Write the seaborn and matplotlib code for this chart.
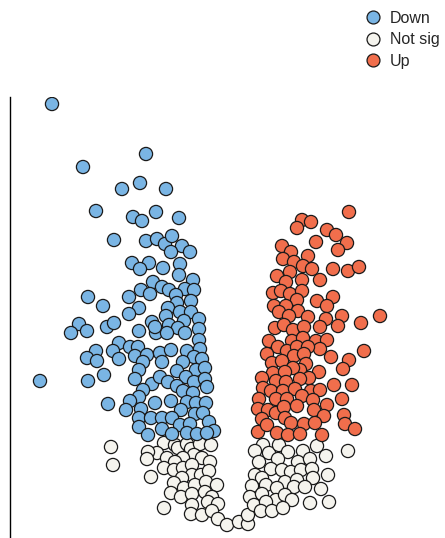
import numpy as np
import pandas as pd
import matplotlib
matplotlib.use("Agg")
import matplotlib.pyplot as plt
from matplotlib.lines import Line2D
import seaborn as sns

# ---------------- data (log2 fold change, -log10 p) ----------------
down_fc = [-3.56,-1.68,-2.94,-2.16,-1.80,-1.28,-2.68,-1.94,-1.76,-1.48,-1.02,
           -2.32,-1.68,-1.46,-1.30,-1.16,-0.96,-0.80,-1.18,-1.96,-1.62,-1.80,-1.34,-1.00,-1.02,-0.74,
           -1.54,-1.36,-1.22,-0.90,-0.72,-1.08,-1.78,-1.60,-2.02,-2.84,-2.54,-0.78,-1.06,-1.24,-1.82,
           -2.02,-1.00,-0.78,-1.28,-0.62,-0.92,-1.56,-1.22,-0.62,-1.04,-1.48,-1.26,-0.90,
           -3.02,-3.18,-2.86,-2.46,-2.32,-1.82,-1.50,-0.62,
           -2.22,-2.68,-2.86,-2.66,-2.34,-2.22,-2.00,-1.84,-1.90,-1.66,-1.40,-1.18,-0.86,-0.60,-0.72,-0.56,
           -1.74,-1.36,-0.94,-1.82,-1.06,-0.68,-0.50,-0.88,
           -3.80,-2.84,-2.52,-1.90,-1.56,-1.40,-1.24,-1.06,-0.72,-0.50,-0.46,-0.94,-0.74,-1.74,-1.82,
           -2.00,-2.44,-2.08,-1.78,-1.50,-1.18,-0.86,-0.68,-0.48,-0.98,-0.70,-0.54,
           -1.82,-1.58,-1.36,-1.16,-0.42,-1.82,-1.36,-1.00,-0.80,-1.64,-1.16,-0.86,-0.66,-0.32,-0.46]
down_p = [8.68,7.68,7.42,6.98,7.10,6.98,6.54,6.42,6.34,6.52,6.40,
          5.96,5.94,5.98,5.88,6.04,5.84,5.72,5.72,5.50,5.50,5.38,5.40,5.48,5.26,5.16,
          5.12,5.02,4.96,4.98,4.96,4.86,4.96,4.88,4.82,4.82,4.64,4.74,4.70,4.60,4.60,
          4.48,4.52,4.52,4.44,4.38,4.34,4.32,4.26,4.18,4.20,4.10,4.10,4.10,
          4.28,4.10,4.14,4.22,4.30,4.14,4.22,3.96,
          3.90,3.74,3.60,3.54,3.74,3.58,3.82,3.82,3.64,3.66,3.70,3.76,3.74,3.78,3.62,3.58,
          3.52,3.52,3.52,3.36,3.34,3.36,3.40,3.22,
          3.14,3.14,3.26,3.18,3.08,3.22,3.12,3.04,3.12,3.18,3.02,2.94,2.90,2.96,2.82,
          2.74,2.68,2.56,2.58,2.70,2.74,2.72,2.70,2.70,2.56,2.48,2.50,
          2.40,2.40,2.40,2.40,2.32,2.22,2.18,2.26,2.28,2.06,2.08,2.10,2.08,2.14,2.10]

up_fc = [2.38,1.44,1.62,1.34,1.94,2.12,2.34,2.16,1.72,
         1.04,1.22,1.06,1.28,1.56,1.46,1.64,2.06,2.36,2.58,
         0.94,1.20,1.12,1.44,1.80,
         0.86,1.02,1.20,1.44,1.34,1.74,2.06,1.94,
         0.88,1.12,0.98,1.36,1.18,1.56,2.24,2.16,1.92,1.80,2.62,3.00,
         0.90,1.08,1.26,1.48,
         0.78,1.24,1.46,1.72,1.94,1.80,0.96,1.14,1.34,1.56,
         0.74,1.28,1.48,2.02,2.68,
         0.84,1.04,1.52,1.40,1.78,1.26,0.86,1.10,1.58,2.38,2.26,
         0.64,0.92,1.12,1.40,2.08,2.44,
         0.66,0.82,1.06,1.30,1.62,1.80,
         0.58,0.92,1.14,1.44,1.66,2.24,1.94,
         0.56,0.76,0.92,1.08,1.34,1.68,1.88,2.28,2.30,2.50,
         0.64,1.10,1.22,1.48,1.70,
         0.56,0.74,0.94,1.16,1.40,1.84]
up_p = [6.52,6.36,6.32,6.20,6.16,6.06,5.90,5.76,5.92,
        5.84,5.72,5.58,5.52,5.64,5.44,5.38,5.38,5.34,5.42,
        5.24,5.32,5.12,5.16,5.16,
        4.90,4.94,4.88,4.94,4.76,4.74,4.82,4.64,
        4.64,4.64,4.52,4.54,4.44,4.42,4.44,4.24,4.38,4.22,4.30,4.44,
        4.20,4.26,4.16,4.22,
        3.94,3.94,4.00,3.94,3.96,3.78,3.82,3.74,3.82,3.82,
        3.68,3.64,3.68,3.62,3.74,
        3.50,3.54,3.48,3.36,3.32,3.40,3.30,3.32,3.20,3.56,3.38,
        3.20,3.14,3.12,3.18,3.06,3.06,
        3.00,2.94,2.94,2.98,2.94,2.96,
        2.78,2.78,2.78,2.84,2.76,2.78,2.66,
        2.58,2.56,2.50,2.62,2.64,2.56,2.44,2.46,2.28,2.18,
        2.38,2.40,2.30,2.28,2.30,
        2.12,2.26,2.10,2.06,2.08,2.06]

ns_fc = [-2.38,-2.34,-1.58,-1.32,-1.32,-1.10,-1.46,-1.64,-1.66,-1.26,-1.04,-0.86,-0.78,-0.60,-0.38,
         -0.72,-0.56,-0.40,-0.94,-1.10,-1.32,-1.12,-0.94,-0.76,-0.76,-0.58,-0.42,-0.96,-1.12,-0.92,
         -0.70,-0.48,-0.26,-1.18,-0.98,-0.76,-0.50,-0.36,-0.76,-0.44,-0.24,-0.78,-0.56,-0.36,-0.24,
         -0.06,0.18,0.36,0.36,
         0.66,0.50,0.78,0.98,1.16,1.46,1.74,1.92,2.36,0.58,0.96,1.36,1.60,
         0.50,0.82,1.04,1.22,1.42,1.64,1.96,0.64,0.72,1.10,1.34,1.66,
         0.44,0.94,1.28,1.50,1.82,0.40,0.64,0.92,1.10,1.24,1.60,1.98,0.48,0.72,0.62,0.84,1.06]
ns_p = [1.82,1.46,1.22,0.60,1.90,1.86,1.70,1.72,1.58,1.60,1.80,1.88,1.78,1.88,1.86,
        1.66,1.60,1.52,1.60,1.52,1.40,1.36,1.40,1.46,1.26,1.26,1.34,1.20,1.10,1.00,
        1.06,1.12,1.06,0.90,0.82,0.88,0.92,0.82,0.66,0.72,0.68,0.48,0.46,0.54,0.38,
        0.26,0.32,0.28,0.46,
        1.86,1.74,1.70,1.86,1.72,1.74,1.84,1.64,1.74,1.52,1.58,1.52,1.58,
        1.26,1.38,1.36,1.32,1.36,1.38,1.26,1.20,1.06,1.12,1.16,1.20,
        1.04,1.00,1.02,1.02,0.98,0.82,0.88,0.76,0.86,0.76,0.70,0.72,0.66,0.72,0.54,0.54,0.60]

categories = ["Down", "Not sig", "Up"]
colors = {"Down": "#7ab5e4", "Not sig": "#f5f4ee", "Up": "#f16e4c"}

df = pd.concat([
    pd.DataFrame({"log2fc": ns_fc, "nlp": ns_p, "group": "Not sig"}),
    pd.DataFrame({"log2fc": down_fc, "nlp": down_p, "group": "Down"}),
    pd.DataFrame({"log2fc": up_fc, "nlp": up_p, "group": "Up"}),
], ignore_index=True)

# ---------------- figure ----------------
sns.set_style("white")
plt.rcParams["font.family"] = ["Liberation Sans", "DejaVu Sans"]

W, H = 445, 538
fig = plt.figure(figsize=(W / 100, H / 100), dpi=100)
ax = fig.add_axes([10 / W, 0, 1 - 10 / W, (538 - 97) / H])

sns.scatterplot(data=df, x="log2fc", y="nlp", hue="group", hue_order=categories,
                palette=colors, s=90, edgecolor="#1a1a1a", linewidth=0.9,
                legend=False, ax=ax)

ax.set_xlim(-4.4, 4.3)
ax.set_ylim(0, 8.82)
ax.set_xticks([])
ax.set_yticks([])
ax.set_xlabel("")
ax.set_ylabel("")
for side in ["top", "right", "bottom"]:
    ax.spines[side].set_visible(False)
ax.spines["left"].set_color("black")
ax.spines["left"].set_linewidth(1.0)

handles = [Line2D([0], [0], marker="o", linestyle="none", markersize=9.3,
                  markerfacecolor=colors[c], markeredgecolor="#1a1a1a",
                  markeredgewidth=0.9) for c in categories]
fig.legend(handles, categories, loc="upper left",
           bbox_to_anchor=(365 / W, 1 - 11 / H), frameon=False,
           fontsize=11.5, handlelength=1.0, handletextpad=0.55,
           labelspacing=0.4, borderpad=0, borderaxespad=0)

fig.savefig("out.png", dpi=100)
